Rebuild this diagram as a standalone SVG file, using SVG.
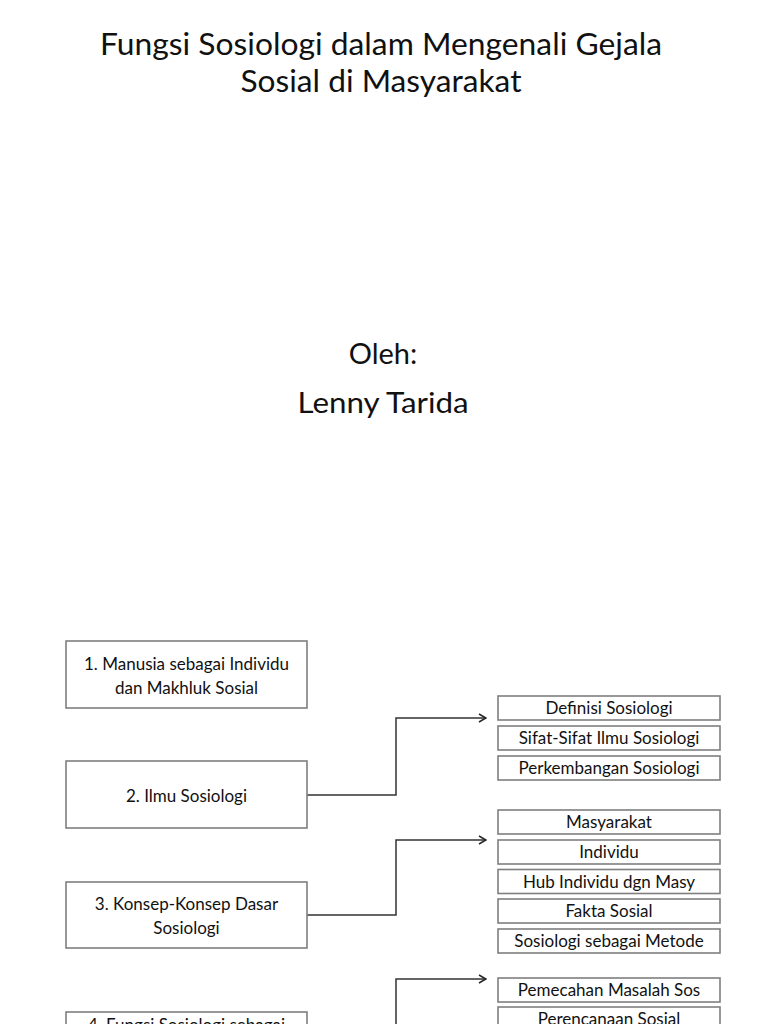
<svg xmlns="http://www.w3.org/2000/svg" width="768" height="1024" viewBox="0 0 768 1024">
<defs>
<marker id="arr" viewBox="0 0 10 10" refX="9" refY="5" markerWidth="10" markerHeight="10" markerUnits="userSpaceOnUse" orient="auto">
<polyline points="2,1 9,5 2,9" fill="none" stroke="#262626" stroke-width="1.5"/>
</marker>
</defs>
<style>
.t{font-family:Lato,"Open Sans","Liberation Sans",sans-serif;fill:#111;text-anchor:middle}
.title{font-size:31px}
.mid{font-size:29px}
.box rect{fill:#fff;stroke:#7f7f7f;stroke-width:1.6}
.box text{font-size:17px}
.conn path{fill:none;stroke:#333;stroke-width:1.5}
</style>
<rect width="768" height="1024" fill="#fff"/>
<g id="title">
<text class="t title" x="381" y="55" textLength="562" lengthAdjust="spacingAndGlyphs">Fungsi Sosiologi dalam Mengenali Gejala</text>
<text class="t title" x="381" y="92" textLength="281" lengthAdjust="spacingAndGlyphs">Sosial di Masyarakat</text>
</g>
<g id="author">
<text class="t mid" x="383" y="364">Oleh:</text>
<text class="t mid" x="383" y="413" textLength="171" lengthAdjust="spacingAndGlyphs">Lenny Tarida</text>
</g>
<g class="conn" id="connectors">
<path d="M307 795 H396 V718 H486" marker-end="url(#arr)"/>
<path d="M307 915 H396 V840 H486" marker-end="url(#arr)"/>
<path d="M307 1045 H396 V979 H486" marker-end="url(#arr)"/>
</g>
<g class="box" id="n1"><rect x="66" y="641" width="241" height="67"/>
<text class="t" x="186.5" y="670">1. Manusia sebagai Individu</text>
<text class="t" x="186.5" y="694">dan Makhluk Sosial</text></g>
<g class="box" id="n2"><rect x="66" y="761" width="241" height="67"/>
<text class="t" x="186.5" y="802">2. Ilmu Sosiologi</text></g>
<g class="box" id="n3"><rect x="66" y="882" width="241" height="66"/>
<text class="t" x="186.5" y="910">3. Konsep-Konsep Dasar</text>
<text class="t" x="186.5" y="934">Sosiologi</text></g>
<g class="box" id="n4"><rect x="66" y="1012" width="241" height="67"/>
<text class="t" x="186.5" y="1031">4. Fungsi Sosiologi sebagai</text></g>
<g class="box" id="c1a"><rect x="498" y="696" width="222" height="24"/><text class="t" x="609" y="714">Definisi Sosiologi</text></g>
<g class="box" id="c1b"><rect x="498" y="726" width="222" height="24"/><text class="t" x="609" y="744">Sifat-Sifat Ilmu Sosiologi</text></g>
<g class="box" id="c1c"><rect x="498" y="756" width="222" height="24"/><text class="t" x="609" y="774">Perkembangan Sosiologi</text></g>
<g class="box" id="c2a"><rect x="498" y="810" width="222" height="24"/><text class="t" x="609" y="828">Masyarakat</text></g>
<g class="box" id="c2b"><rect x="498" y="840" width="222" height="24"/><text class="t" x="609" y="858">Individu</text></g>
<g class="box" id="c2c"><rect x="498" y="869.5" width="222" height="24"/><text class="t" x="609" y="887.5">Hub Individu dgn Masy</text></g>
<g class="box" id="c2d"><rect x="498" y="899" width="222" height="24"/><text class="t" x="609" y="917">Fakta Sosial</text></g>
<g class="box" id="c2e"><rect x="498" y="929" width="222" height="24"/><text class="t" x="609" y="947">Sosiologi sebagai Metode</text></g>
<g class="box" id="c3a"><rect x="498" y="978" width="222" height="24"/><text class="t" x="609" y="996">Pemecahan Masalah Sos</text></g>
<g class="box" id="c3b"><rect x="498" y="1007" width="222" height="24"/><text class="t" x="609" y="1025">Perencanaan Sosial</text></g>
</svg>
